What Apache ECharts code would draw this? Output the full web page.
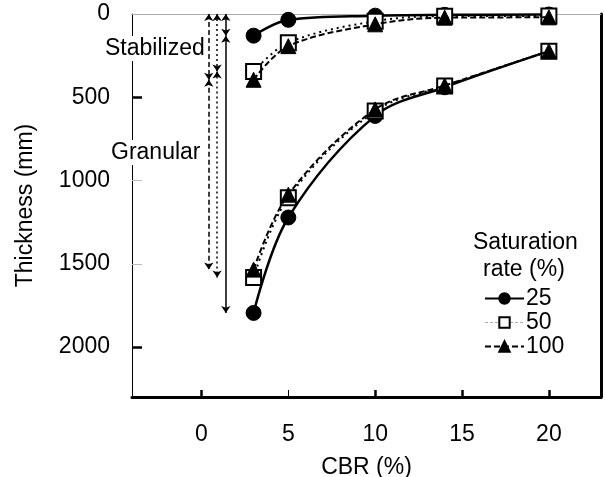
<!DOCTYPE html>
<html>
<head>
<meta charset="utf-8">
<script src="https://cdn.jsdelivr.net/npm/echarts@6/dist/echarts.min.js"></script>
<style>html,body{margin:0;padding:0;background:#fff;}#c{width:605px;height:477px;}</style>
</head>
<body>
<div id="c"></div>
<script>
// ---- data ----
var cbr = [3, 5, 10, 14, 20];
var seriesNames = ['25', '50', '100'];
// stabilized layer thickness (mm)
var stab25 = [130, 35, 10, 5, 3];
var stab50 = [345, 172, 43, 13, 12];
var stab100 = [395, 193, 62, 22, 20];
// total (stabilized + granular) thickness (mm)
var total25 = [1795, 1222, 612, 440, 223];
var total50 = [1583, 1103, 583, 433, 223];
var total100 = [1535, 1085, 573, 430, 223];
var xTicks = [0, 5, 10, 15, 20];
var yTicks = [0, 500, 1000, 1500, 2000];
// annotation arrows (x position for each series)
var arrowX = [1.4, 0.9, 0.42];

var FONT = 'Liberation Sans, Arial, sans-serif';
var FS = 23;
var chart = echarts.init(document.getElementById('c'), null, {renderer: 'canvas'});

function pairs(xs, ys) { return xs.map(function (x, i) { return [x, ys[i]]; }); }

var styles = [
  {symbol: 'circle', size: 15, line: {color: '#000', width: 2.5, type: 'solid'}, item: {color: '#000', borderColor: '#000', borderWidth: 1}},
  {symbol: 'rect', size: 15, line: {color: '#000', width: 2, type: [2, 4]}, item: {color: '#fff', borderColor: '#000', borderWidth: 2}},
  {symbol: 'triangle', size: 15, line: {color: '#000', width: 2, type: [6, 3]}, item: {color: '#000', borderColor: '#000', borderWidth: 1}}
];
var stabs = [stab25, stab50, stab100];
var totals = [total25, total50, total100];

var series = [];
[0, 1, 2].forEach(function (k) {
  [stabs[k], totals[k]].forEach(function (vals) {
    series.push({
      name: seriesNames[k], type: 'line', xAxisIndex: 0, yAxisIndex: 0,
      data: pairs(cbr, vals), smooth: 0.35,
      symbol: styles[k].symbol, symbolSize: styles[k].size,
      lineStyle: styles[k].line, itemStyle: styles[k].item,
      z: 3 + k, animation: false
    });
  });
});
// arrows: stabilized (0 -> stab at CBR 3) and granular (stab -> total at CBR 3)
var arrowTypes = ['solid', [2, 3], [5, 3]];
[0, 1, 2].forEach(function (k) {
  series.push({
    type: 'lines', coordinateSystem: 'cartesian2d', xAxisIndex: 0, yAxisIndex: 0,
    symbol: ['arrow', 'arrow'], symbolSize: 7,
    lineStyle: {color: '#000', width: 1.5, type: arrowTypes[k], opacity: 1},
    data: [
      {coords: [[arrowX[k], 0], [arrowX[k], stabs[k][0]]]},
      {coords: [[arrowX[k], stabs[k][0]], [arrowX[k], totals[k][0]]]}
    ],
    z: 2, animation: false, silent: true
  });
});

function plain(v) { return String(v); }

var option = {
  backgroundColor: '#fff',
  animation: false,
  grid: {left: 132, right: 4, top: 14, bottom: 80, containLabel: false, outerBoundsMode: 'none'},
  xAxis: [
    {type: 'value', position: 'bottom', min: -4, max: 23,
     name: 'CBR (%)', nameLocation: 'middle', nameGap: 59,
     nameTextStyle: {fontFamily: FONT, fontSize: FS, color: '#000'},
     axisLine: {show: true, onZero: false, lineStyle: {color: '#000', width: 3}},
     axisTick: {show: true, inside: true, length: 7, lineStyle: {color: '#000', width: 2.5}, customValues: [0, 10, 15, 20]},
     axisLabel: {show: true, customValues: xTicks, formatter: plain, fontFamily: FONT, fontSize: FS, color: '#000', margin: 26},
     splitLine: {show: false}},
    {type: 'value', position: 'bottom', min: -4, max: 23,
     axisLine: {show: false, onZero: false},
     axisTick: {show: true, inside: true, length: 7, lineStyle: {color: '#000', width: 1}, customValues: [5]},
     axisLabel: {show: false}, splitLine: {show: false}},
    {type: 'value', position: 'top', min: -4, max: 23,
     axisLine: {show: true, onZero: false, lineStyle: {color: '#aaa', width: 1}},
     axisTick: {show: false}, axisLabel: {show: false}, splitLine: {show: false}}
  ],
  yAxis: [
    {type: 'value', position: 'left', inverse: true, min: 0, max: 2300,
     name: 'Thickness (mm)', nameLocation: 'middle', nameGap: 95, nameRotate: 90,
     nameTextStyle: {fontFamily: FONT, fontSize: FS, color: '#000'},
     axisLine: {show: true, onZero: false, lineStyle: {color: '#000', width: 1}},
     axisTick: {show: true, inside: true, length: 10, lineStyle: {color: '#bbb', width: 1}, customValues: [1000, 1500]},
     axisLabel: {show: true, customValues: yTicks, formatter: plain, fontFamily: FONT, fontSize: FS, color: '#000', margin: 22},
     splitLine: {show: false}},
    {type: 'value', position: 'left', inverse: true, min: 0, max: 2300,
     axisLine: {show: false, onZero: false},
     axisTick: {show: true, inside: true, length: 10, lineStyle: {color: '#000', width: 2.5}, customValues: [500, 2000]},
     axisLabel: {show: false}, splitLine: {show: false}},
    {type: 'value', position: 'right', inverse: true, min: 0, max: 2300,
     axisLine: {show: true, onZero: false, lineStyle: {color: '#000', width: 3}},
     axisTick: {show: false}, axisLabel: {show: false}, splitLine: {show: false}}
  ],
  legend: {
    orient: 'vertical', left: 484, top: 287, padding: 0, itemWidth: 39, itemHeight: 13, itemGap: 1,
    textStyle: {fontFamily: FONT, fontSize: FS, color: '#000', padding: [0, 0, 0, -3]},
    data: [
      {name: '25'},
      {name: '50', lineStyle: {color: '#aaa', width: 1, type: [3, 2]}},
      {name: '100'}
    ],
    selectedMode: false
  },
  graphic: [
    {type: 'text', left: 473, top: 231, z: 10,
     style: {text: 'Saturation', font: FS + 'px ' + FONT, fill: '#000'}},
    {type: 'text', left: 483, top: 258, z: 10,
     style: {text: 'rate (%)', font: FS + 'px ' + FONT, fill: '#000'}},
    {type: 'text', left: 103, top: 36, z: 10,
     style: {text: 'Stabilized', font: FS + 'px ' + FONT, fill: '#000', backgroundColor: '#fff', padding: [1, 2]}},
    {type: 'text', left: 109, top: 140, z: 10,
     style: {text: 'Granular', font: FS + 'px ' + FONT, fill: '#000', backgroundColor: '#fff', padding: [1, 2]}}
  ],
  series: series
};
chart.setOption(option);
</script>
</body>
</html>
